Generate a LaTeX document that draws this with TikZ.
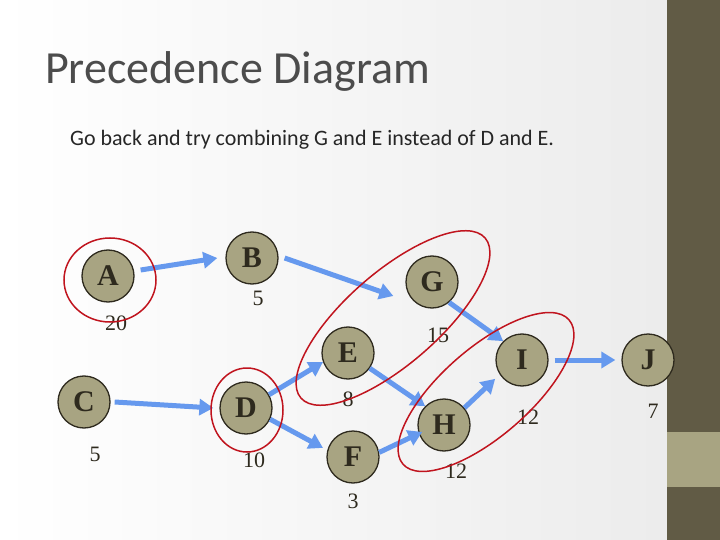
\documentclass[tikz,border=0pt]{standalone}
\usepackage{fontspec}
\setmainfont{Carlito}
\newfontfamily\tms{Liberation Serif}
\usetikzlibrary{arrows.meta}
\definecolor{olive}{HTML}{A8A482}
\definecolor{dark}{HTML}{2E2A1E}
\definecolor{strip}{HTML}{615B45}
\definecolor{blu}{HTML}{6699EE}
\definecolor{redl}{HTML}{C0141E}
\tikzset{
 act/.style={circle,draw=dark,line width=1.3pt,fill=olive,minimum size=52pt,inner sep=0pt,font=\tms\bfseries\fontsize{30}{30}\selectfont,text=dark},
 num/.style={font=\tms\fontsize{22}{22}\selectfont,text=dark},
 arr/.style={draw=blu,line width=5pt,-{Triangle[length=14pt,width=16pt]}},
 loop/.style={draw=redl,line width=1.5pt}
}
\begin{document}
\begin{tikzpicture}[x=1pt,y=-1pt]
\useasboundingbox (0,0) rectangle (720,540);
\shade[left color=white,right color=gray!15] (0,0) rectangle (667,540);
\fill[strip] (667,0) rectangle (720,540);
\fill[olive] (667,432) rectangle (720,487);
\node[anchor=base west,text=black!70,font=\fontsize{46}{46}\selectfont,inner sep=0pt] (title) at (45,84) {Precedence Diagram};
\node[anchor=base west,text=black!85,font=\fontsize{22}{22}\selectfont,inner sep=0pt] (sub) at (70,146) {Go back and try combining G and E instead of D and E.};
\node[act] (A) at (108,276) {A};
\node[act] (B) at (252,258) {B};
\node[act] (G) at (432,282) {G};
\node[act] (E) at (348,353) {E};
\node[act] (C) at (84,402) {C};
\node[act] (D) at (246,408) {D};
\node[act] (F) at (353,457) {F};
\node[act] (H) at (444,425) {H};
\node[act] (I) at (522,360) {I};
\node[act] (J) at (648,360) {J};
\node[num] (nA) at (116,323) {20};
\node[num] (nB) at (258,298) {5};
\node[num] (nG) at (438,335) {15};
\node[num] (nE) at (348,399) {8};
\node[num] (nC) at (95,454) {5};
\node[num] (nD) at (254,460) {10};
\node[num] (nF) at (353,501) {3};
\node[num] (nH) at (456,471) {12};
\node[num] (nI) at (528,417) {12};
\node[num] (nJ) at (653,411) {7};
\draw[arr] (A.east) ++(6,-6) coordinate (a1) (a1) -- ([xshift=-8pt]B.west);
\draw[arr] ([xshift=6pt]B.east) -- ([shift={(-12pt,-14pt)}]G.west);
\draw[arr] (G.-50) -- (I.135);
\draw[arr] (E.-35) -- (H.135);
\draw[arr] (D.30) -- (E.200);
\draw[arr] (D.-25) -- ([xshift=-5pt]F.160);
\draw[arr] (F.10) -- ([xshift=4pt]H.195);
\draw[arr] ([xshift=4pt]C.east) -- ([xshift=-6pt]D.west);
\draw[arr] (H.40) -- ([xshift=-8pt]I.225);
\draw[arr] ([xshift=6pt]I.east) -- ([xshift=-6pt]J.west);
\draw[loop] (110,280) ellipse [x radius=46, y radius=42];
\draw[loop] (247,410) ellipse [x radius=36, y radius=42];
\draw[loop,rotate around={41:(393,318)}] (393,318) ellipse [x radius=122, y radius=46];
\draw[loop,rotate around={41:(486,392)}] (486,392) ellipse [x radius=110, y radius=44];
\end{tikzpicture}
\end{document}
